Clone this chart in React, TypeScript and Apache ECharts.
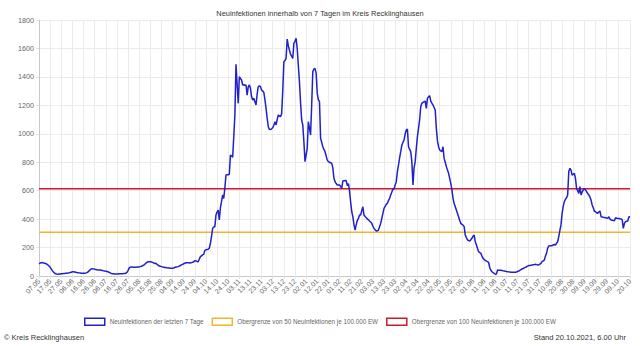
import React, { useEffect, useRef } from "react";
import * as echarts from "echarts";

const TITLE = "Neuinfektionen innerhalb von 7 Tagen im Kreis Recklinghausen";
const FOOTER_LEFT = "© Kreis Recklinghausen";
const FOOTER_RIGHT = "Stand 20.10.2021, 6.00 Uhr";

const SERIES_NAMES = [
  "Neuinfektionen der letzten 7 Tage",
  "Obergrenze von 50 Neuinfektionen je 100.000 EW",
  "Obergrenze von 100 Neuinfektionen je 100.000 EW",
];
const SERIES_COLORS = ["#2020cc", "#f2b530", "#cc1c2c"];

// daily categories 07.05.2020 .. 20.10.2021
const DAY_COUNT = 532;
const START = Date.UTC(2020, 4, 7);
const dates: string[] = [];
for (let i = 0; i < DAY_COUNT; i++) {
  const d = new Date(START + i * 86400000);
  const dd = String(d.getUTCDate()).padStart(2, "0");
  const mm = String(d.getUTCMonth() + 1).padStart(2, "0");
  dates.push(dd + "." + mm + "." + d.getUTCFullYear());
}

// 7-day new infections, one row per 10 days
const newInfections7d: number[] = [
  86, 90, 94, 95, 92, 90, 88, 84, 78, 70,
  62, 50, 38, 28, 20, 16, 14, 13, 14, 14,
  15, 16, 17, 18, 19, 20, 21, 22, 24, 26,
  30, 30, 28, 26, 24, 23, 22, 21, 20, 20,
  20, 20, 21, 24, 28, 36, 44, 50, 52, 50,
  48, 46, 44, 43, 42, 42, 40, 38, 36, 35,
  34, 32, 30, 26, 22, 18, 16, 15, 14, 14,
  14, 14, 15, 15, 16, 16, 17, 18, 20, 26,
  38, 55, 62, 64, 63, 62, 62, 62, 63, 63,
  64, 66, 68, 72, 76, 82, 90, 96, 100, 100,
  101, 99, 96, 92, 88, 90, 82, 76, 70, 68,
  66, 64, 62, 60, 60, 58, 57, 56, 55, 54,
  54, 56, 60, 64, 64, 66, 70, 74, 78, 82,
  86, 90, 93, 94, 94, 93, 92, 94, 96, 100,
  108, 106, 102, 100, 118, 136, 142, 148, 152, 180,
  184, 186, 188, 195, 230, 276, 335, 345, 347, 429,
  450, 464, 394, 480, 523, 570, 545, 620, 710, 712,
  712, 715, 850, 845, 835, 980, 1130, 1488, 1350, 1214,
  1401, 1390, 1378, 1343, 1345, 1340, 1343, 1272, 1330, 1343,
  1320, 1260, 1237, 1250, 1225, 1202, 1280, 1331, 1338, 1330,
  1308, 1300, 1291, 1240, 1179, 1110, 1050, 1031, 1030, 1035,
  1043, 1060, 1085, 1062, 1100, 1132, 1125, 1120, 1140, 1300,
  1507, 1515, 1530, 1666, 1620, 1589, 1560, 1545, 1530, 1636,
  1650, 1671, 1600, 1480, 1366, 1220, 1097, 1062, 944, 804,
  850, 898, 1085, 1040, 991, 1200, 1437, 1455, 1460, 1425,
  1284, 1240, 1226, 968, 940, 909, 890, 874, 845, 815,
  804, 800, 796, 792, 760, 687, 663, 650, 640, 640,
  640, 630, 616, 668, 670, 672, 670, 635, 650, 600,
  520, 452, 417, 360, 323, 359, 390, 405, 429, 429,
  460, 487, 429, 418, 410, 401, 395, 387, 380, 370,
  350, 335, 325, 316, 318, 323, 347, 370, 405, 440,
  476, 490, 504, 511, 530, 546, 570, 590, 612, 612,
  640, 663, 734, 780, 830, 874, 920, 940, 956, 1000,
  1026, 1034, 909, 890, 874, 804, 640, 760, 804, 898,
  980, 1038, 1100, 1190, 1214, 1221, 1225, 1230, 1179, 1249,
  1260, 1268, 1230, 1215, 1202, 1185, 1167, 1038, 950, 909,
  886, 880, 874, 909, 827, 800, 769, 745, 722, 687,
  650, 605, 546, 510, 487, 464, 440, 417, 390, 370,
  363, 358, 347, 288, 270, 253, 250, 246, 255, 265,
  280, 288, 241, 220, 194, 171, 165, 159, 140, 124,
  115, 110, 105, 101, 95, 58, 40, 30, 24, 19,
  12, 14, 42, 41, 40, 40, 38, 36, 35, 33,
  31, 30, 29, 28, 26, 26, 26, 26, 26, 28,
  32, 35, 40, 45, 49, 53, 57, 61, 65, 69,
  73, 74, 76, 77, 79, 80, 82, 80, 78, 77,
  84, 89, 101, 106, 112, 140, 159, 194, 211, 212,
  212, 213, 218, 223, 218, 230, 241, 277, 320, 359,
  440, 490, 523, 540, 550, 570, 734, 757, 745, 710,
  715, 722, 687, 616, 600, 581, 628, 570, 590, 605,
  616, 605, 593, 580, 570, 555, 534, 499, 480, 455,
  452, 445, 441, 450, 457, 417, 415, 413, 412, 410,
  408, 405, 417, 400, 394, 392, 390, 389, 410, 406,
  405, 404, 402, 401, 395, 335, 370, 382, 385, 387,
  417, 415,
];

const LIMIT_50 = 307;
const LIMIT_100 = 614;

const Y_MAX = 1800;
const Y_STEP = 200;

const FONT = 'Arial, "Liberation Sans", sans-serif';

const showTick = (i: number) =>
  (i % 10 === 0 && i !== DAY_COUNT - 2) || i === DAY_COUNT - 1;

export default function App() {
  const ref = useRef<HTMLDivElement>(null);
  useEffect(() => {
    if (!ref.current) return;
    const chart = echarts.init(ref.current, undefined, { renderer: "svg" });
    const firstIdx = 0;
    const lastIdx = dates.length - 1;
    chart.setOption({
      animation: false,
      textStyle: { fontFamily: FONT },
      title: {
        text: TITLE,
        left: "center",
        top: 5,
        textStyle: { fontSize: 7.4, fontWeight: "normal", color: "#333", fontFamily: FONT },
      },
      grid: { left: 39, right: 10, top: 20, bottom: 70, containLabel: false },
      legend: {
        bottom: 15,
        left: "center",
        itemWidth: 20,
        itemHeight: 7,
        itemGap: 8,
        textStyle: { fontSize: 6.3, color: "#666", fontFamily: FONT },
        data: SERIES_NAMES.map((n, i) => ({
          name: n,
          icon: "rect",
          itemStyle: { color: "#ffffff", borderColor: SERIES_COLORS[i], borderWidth: 1.5 },
        })),
      },
      xAxis: {
        type: "category",
        data: dates,
        boundaryGap: false,
        axisLine: { lineStyle: { color: "#c8c8c8", width: 1 } },
        axisTick: { show: true, length: 3, interval: (i: number) => showTick(i), lineStyle: { color: "#e2e2e2" } },
        axisLabel: {
          interval: (i: number) => showTick(i),
          formatter: (v: string) => v.slice(0, 5),
          rotate: 45,
          fontSize: 7,
          color: "#666",
          margin: 4,
          fontFamily: FONT,
        },
        splitLine: { show: true, interval: (i: number) => showTick(i), lineStyle: { color: "#ebebeb", width: 1 } },
      },
      yAxis: {
        type: "value",
        min: 0,
        max: Y_MAX,
        interval: Y_STEP,
        axisLine: { show: true, lineStyle: { color: "#c8c8c8", width: 1 } },
        axisTick: { show: true, length: 3, lineStyle: { color: "#e2e2e2" } },
        axisLabel: { fontSize: 7.2, color: "#666", margin: 5, fontFamily: FONT, formatter: (v: number) => String(v) },
        splitLine: { show: true, lineStyle: { color: "#ebebeb", width: 1 } },
      },
      series: [
        {
          name: SERIES_NAMES[0],
          type: "line",
          data: newInfections7d,
          showSymbol: false,
          symbol: "none",
          lineStyle: { color: SERIES_COLORS[0], width: 1.5 },
          itemStyle: { color: SERIES_COLORS[0] },
          z: 5,
        },
        {
          name: SERIES_NAMES[1],
          type: "line",
          data: [[firstIdx, LIMIT_50], [lastIdx, LIMIT_50]],
          showSymbol: false,
          symbol: "none",
          lineStyle: { color: SERIES_COLORS[1], width: 1.5 },
          itemStyle: { color: SERIES_COLORS[1] },
          z: 3,
        },
        {
          name: SERIES_NAMES[2],
          type: "line",
          data: [[firstIdx, LIMIT_100], [lastIdx, LIMIT_100]],
          showSymbol: false,
          symbol: "none",
          lineStyle: { color: SERIES_COLORS[2], width: 1.5 },
          itemStyle: { color: SERIES_COLORS[2] },
          z: 3,
        },
      ],
      graphic: [
        {
          type: "text",
          left: 4,
          top: 333,
          style: { text: FOOTER_LEFT, fontSize: 7.5, fill: "#333", fontFamily: FONT },
        },
        {
          type: "text",
          right: 14,
          top: 333,
          style: { text: FOOTER_RIGHT, fontSize: 7.5, fill: "#333", fontFamily: FONT },
        },
      ],
    });
    return () => chart.dispose();
  }, []);
  return (
    <div
      ref={ref}
      style={{ position: "fixed", left: 0, top: 0, width: 640, height: 346, background: "#fff" }}
    />
  );
}
